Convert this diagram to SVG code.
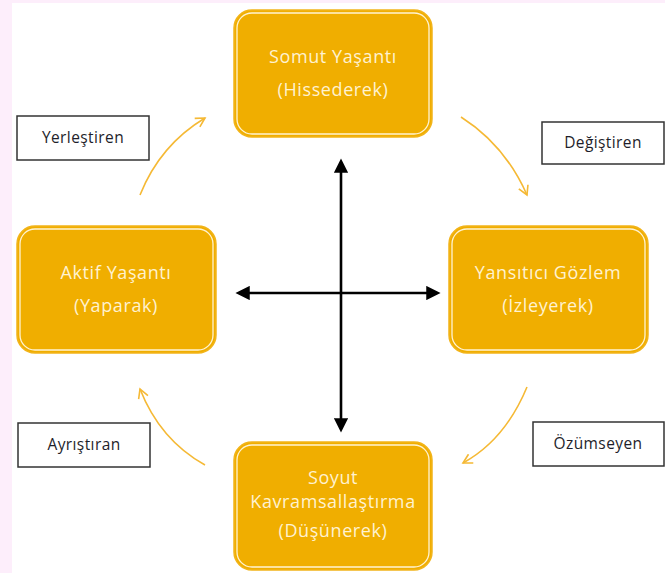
<svg xmlns="http://www.w3.org/2000/svg" width="665" height="573" viewBox="0 0 665 573">
<defs>
<style>
.node{fill:#F0AE00;stroke:#F2B41A;stroke-width:1.5}
.inner{fill:none;stroke:#FFF3D2;stroke-width:1.3}
.nt{font-family:"Open Sans","Liberation Sans",sans-serif;font-size:18px;letter-spacing:0.6px;fill:#FFF2D0;text-anchor:middle}
.lb{fill:#fff;stroke:#333;stroke-width:1.5}
.lt{font-family:"Open Sans","Liberation Sans",sans-serif;font-size:15.5px;letter-spacing:0.4px;fill:#1e1e2a;text-anchor:middle}
.cyc{fill:none;stroke:#F5B935;stroke-width:1.6;marker-end:url(#open)}
.axis{fill:none;stroke:#000;stroke-width:2.6;marker-start:url(#solid);marker-end:url(#solid)}
</style>
<marker id="open" viewBox="0 0 12 12" refX="10" refY="6" markerWidth="12" markerHeight="12" markerUnits="userSpaceOnUse" orient="auto">
<polyline points="1,1 10,6 1,11" fill="none" stroke="#F5B935" stroke-width="1.6"/>
</marker>
<marker id="solid" viewBox="0 0 12 12" refX="9" refY="6" markerWidth="5.5" markerHeight="5.5" orient="auto-start-reverse">
<path d="M0,0 L12,6 L0,12 z" fill="#000"/>
</marker>
</defs>
<rect x="0" y="0" width="665" height="573" fill="#fff"/>
<rect x="0" y="0" width="665" height="3" fill="#FDEEFB"/>
<rect x="0" y="0" width="12" height="573" fill="#FDEEFB"/>

<g id="connectors">
<line class="axis" x1="341" y1="162" x2="341" y2="429"/>
<line class="axis" x1="239" y1="293" x2="437" y2="293"/>
<path class="cyc" d="M140,195 Q160,145 205,118"/>
<path class="cyc" d="M461,117 Q505,145 527,195"/>
<path class="cyc" d="M527,387 Q505,440 463,463"/>
<path class="cyc" d="M205,465 Q160,440 140,389"/>
</g>

<g id="node-somut">
<rect class="node" x="234" y="10" width="198" height="127" rx="18"/>
<rect class="inner" x="237" y="13" width="192" height="121" rx="15"/>
<text class="nt" x="333" y="63">Somut Yaşantı</text>
<text class="nt" x="333" y="96">(Hissederek)</text>
</g>

<g id="node-aktif">
<rect class="node" x="17" y="226" width="199" height="127" rx="18"/>
<rect class="inner" x="20" y="229" width="193" height="121" rx="15"/>
<text class="nt" x="116" y="279">Aktif Yaşantı</text>
<text class="nt" x="116" y="312">(Yaparak)</text>
</g>

<g id="node-yansitici">
<rect class="node" x="449" y="226" width="199" height="127" rx="18"/>
<rect class="inner" x="452" y="229" width="193" height="121" rx="15"/>
<text class="nt" x="548" y="279">Yansıtıcı Gözlem</text>
<text class="nt" x="548" y="312">(İzleyerek)</text>
</g>

<g id="node-soyut">
<rect class="node" x="234" y="442" width="198" height="128" rx="18"/>
<rect class="inner" x="237" y="445" width="192" height="122" rx="15"/>
<text class="nt" x="333" y="484">Soyut</text>
<text class="nt" x="333" y="508">Kavramsallaştırma</text>
<text class="nt" x="333" y="537">(Düşünerek)</text>
</g>

<g id="label-yerlestiren">
<rect class="lb" x="17" y="116" width="132" height="44"/>
<text class="lt" x="83" y="143">Yerleştiren</text>
</g>
<g id="label-degistiren">
<rect class="lb" x="542" y="122" width="122" height="42"/>
<text class="lt" x="603" y="148">Değiştiren</text>
</g>
<g id="label-ayristiran">
<rect class="lb" x="18" y="423" width="132" height="44"/>
<text class="lt" x="84" y="450">Ayrıştıran</text>
</g>
<g id="label-ozumseyen">
<rect class="lb" x="533" y="422" width="131" height="44"/>
<text class="lt" x="598" y="449">Özümseyen</text>
</g>
</svg>
